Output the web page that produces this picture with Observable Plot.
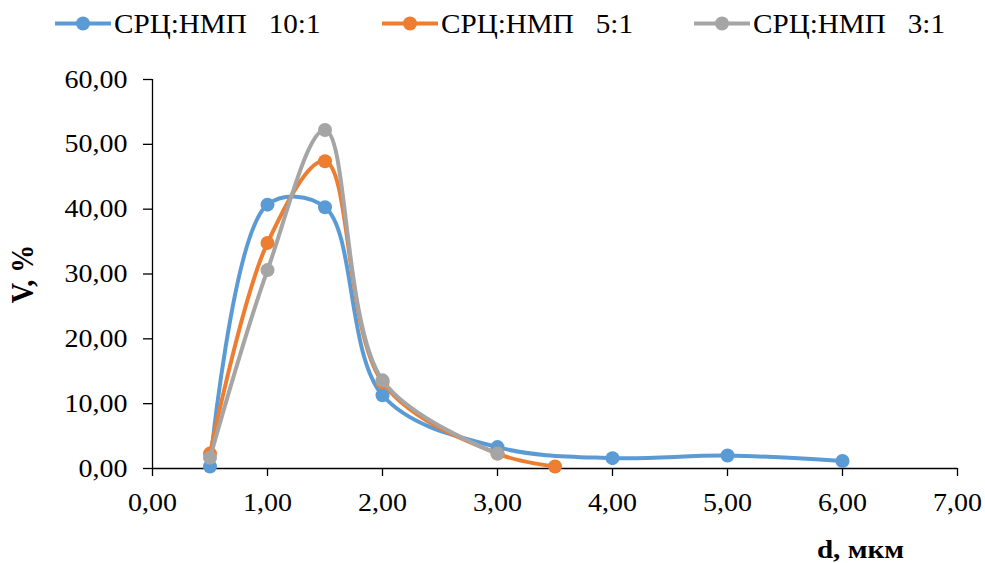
<!DOCTYPE html>
<html>
<head>
<meta charset="utf-8">
<script src="https://cdn.jsdelivr.net/npm/d3@7"></script>
<script src="https://cdn.jsdelivr.net/npm/@observablehq/plot@0.6"></script>
<style>
  html, body { margin: 0; padding: 0; background: #fff; }
  #wrap { position: relative; width: 985px; height: 563px; }
  #legend { position: absolute; left: 0; top: 0; }
  #chart { position: absolute; left: 0; top: 0; }
</style>
</head>
<body>
<div id="wrap"><div id="chart"></div><svg id="legend" width="985" height="50"></svg></div>
<script>
// ---- data ----
const seriesNames = ["СРЦ:НМП   10:1", "СРЦ:НМП   5:1", "СРЦ:НМП   3:1"];
const seriesColors = ["#5B9BD5", "#ED7D31", "#A5A5A5"];
const d_10_1 = [0.5, 1, 1.5, 2, 3, 4, 5, 6];
const v_10_1 = [0.3, 40.7, 40.3, 11.3, 3.3, 1.6, 2.0, 1.15];
const d_5_1 = [0.5, 1, 1.5, 2, 3, 3.5];
const v_5_1 = [2.3, 34.8, 47.4, 13.3, 2.3, 0.3];
const d_3_1 = [0.5, 1, 1.5, 2, 3];
const v_3_1 = [1.65, 30.6, 52.2, 13.6, 2.3];
const xTicks = [0, 1, 2, 3, 4, 5, 6, 7];
const yTicks = [0, 10, 20, 30, 40, 50, 60];
const xLabel = "d, мкм";
const yLabel = "V, %";

const fmt = d => d.toFixed(2).replace(".", ",");
const mk = (xs, ys, name) => xs.map((x, i) => ({x, y: ys[i], name}));
const series = [
  mk(d_10_1, v_10_1, seriesNames[0]),
  mk(d_5_1, v_5_1, seriesNames[1]),
  mk(d_3_1, v_3_1, seriesNames[2])
];

const marks = [
  Plot.ruleY([0], {stroke: "#000", strokeWidth: 1.3}),
  Plot.ruleX([0], {stroke: "#000", strokeWidth: 1.3}),
  Plot.axisX({ticks: xTicks, tickSize: 8, tickPadding: 17, tickFormat: fmt, label: null, strokeWidth: 1.3}),
  Plot.axisY({ticks: yTicks, tickSize: 9, tickPadding: 16, tickFormat: fmt, label: null, strokeWidth: 1.3}),
];
series.forEach((s, i) => {
  marks.push(Plot.line(s, {x: "x", y: "y", stroke: seriesColors[i], strokeWidth: 4, curve: "catmull-rom"}));
  marks.push(Plot.dot(s, {x: "x", y: "y", fill: seriesColors[i], r: 7}));
});
marks.push(Plot.text([yLabel], {frameAnchor: "left", dx: -130, rotate: -90, textAnchor: "middle", lineAnchor: "middle", fontWeight: "bold", fontSize: 28}));
marks.push(Plot.text([xLabel], {frameAnchor: "bottom-right", dx: -97, dy: 81, textAnchor: "middle", lineAnchor: "middle", fontWeight: "bold", fontSize: 26}));

const chart = Plot.plot({
  width: 985, height: 563,
  marginLeft: 152, marginRight: 28, marginTop: 79, marginBottom: 95,
  x: {domain: [0, 7]},
  y: {domain: [0, 60]},
  style: {fontFamily: "'Liberation Serif', 'Times New Roman', serif", fontSize: "25px", color: "#000", background: "#fff"},
  marks
});
document.getElementById("chart").appendChild(chart);

// horizontal stretch of text as in the reference
chart.querySelectorAll("text").forEach(t => {
  let tr = t.getAttribute("transform");
  const rotated = tr && tr.includes("rotate");
  if (!tr) {
    const x = +(t.getAttribute("x") || 0), y = +(t.getAttribute("y") || 0);
    t.removeAttribute("x"); t.removeAttribute("y");
    tr = `translate(${x},${y})`;
  }
  t.setAttribute("transform", tr + (rotated ? " scale(1,1.12)" : " scale(1.12,1)"));
});

// legend
const lg = d3.select("#legend");
const legendX = [55, 382, 694];
seriesNames.forEach((name, i) => {
  const x0 = legendX[i];
  lg.append("line").attr("x1", x0).attr("x2", x0 + 56).attr("y1", 23.5).attr("y2", 23.5)
    .attr("stroke", seriesColors[i]).attr("stroke-width", 4);
  lg.append("circle").attr("cx", x0 + 28).attr("cy", 23.5).attr("r", 7).attr("fill", seriesColors[i]);
  lg.append("text").attr("transform", `translate(${x0 + 59},33) scale(1.08,1)`)
    .style("white-space", "pre").attr("font-family", "'Liberation Serif', serif")
    .attr("font-size", 27).attr("fill", "#000").text(name);
});
</script>
</body>
</html>
